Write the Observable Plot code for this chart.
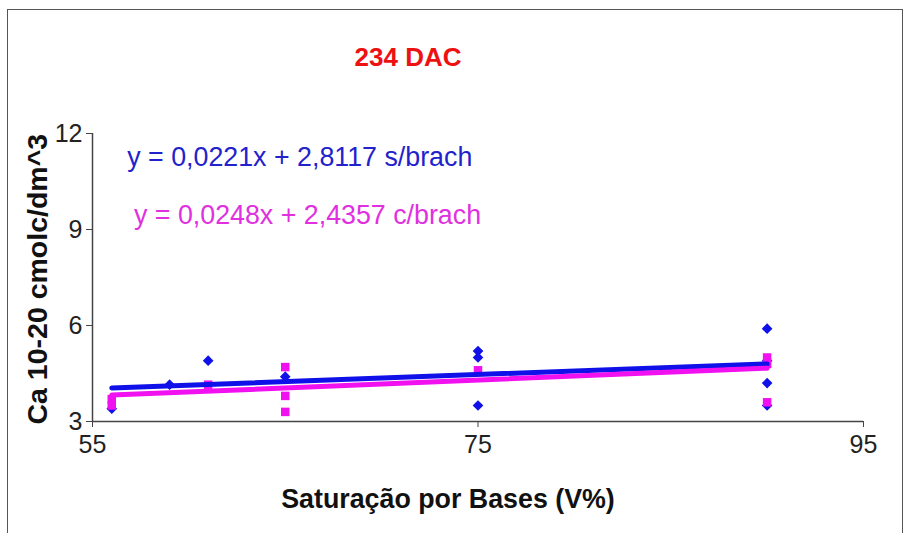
<!DOCTYPE html>
<html>
<head>
<meta charset="utf-8">
<script src="https://cdn.jsdelivr.net/npm/d3@7"></script>
<script src="https://cdn.jsdelivr.net/npm/@observablehq/plot@0.6"></script>
<style>
  html, body { margin: 0; padding: 0; background: #fff; }
  #wrap { position: relative; width: 908px; height: 533px; overflow: hidden; }
  #border { position: absolute; left: 7px; top: 9px; width: 896px; height: 600px; border: 1.5px solid #555; box-sizing: border-box; }
  #chart { position: absolute; left: 0; top: 0; }
</style>
</head>
<body>
<div id="wrap"><div id="border"></div><div id="chart"></div></div>
<script>
const title = "234 DAC";
const xLabel = "Saturação por Bases (V%)";
const yLabel = "Ca 10-20 cmolc/dm^3";
const xTicks = [55, 75, 95];
const yTicks = [3, 6, 9, 12];

// s/brach (blue)
const blueX = [56, 59, 61, 65, 75, 75, 75, 90, 90, 90, 90];
const blueY = [3.4, 4.15, 4.9, 4.4, 5.2, 5.0, 3.5, 5.9, 4.9, 4.2, 3.5];
// c/brach (magenta)
const pinkX = [56, 56, 61, 65, 65, 65, 75, 90, 90, 90];
const pinkY = [3.5, 3.7, 4.15, 4.7, 3.8, 3.3, 4.6, 5.0, 4.8, 3.6];

const blueFit = {a: 0.0221, b: 2.8117, label: "y = 0,0221x + 2,8117 s/brach"};
const pinkFit = {a: 0.0248, b: 2.4357, label: "y = 0,0248x + 2,4357 c/brach"};
const fitRange = [56, 90];

const blueColor = "#1010e8";
const pinkColor = "#f010f0";

const blue = blueX.map((x, i) => ({x, y: blueY[i]}));
const pink = pinkX.map((x, i) => ({x, y: pinkY[i]}));
const fitLine = f => fitRange.map(x => ({x, y: f.a * x + f.b}));

const chart = Plot.plot({
  width: 908,
  height: 533,
  marginLeft: 92,
  marginRight: 45,
  marginTop: 133,
  marginBottom: 112,
  style: {fontFamily: "'Liberation Sans', Arial, sans-serif", fontSize: "25px", background: "transparent", color: "#222"},
  x: {domain: [55, 95]},
  y: {domain: [3, 12]},
  marks: [
    Plot.axisX({ticks: xTicks, tickSize: 6, tickPadding: 8, fontSize: 25, label: null, stroke: "#444"}),
    Plot.axisY({ticks: yTicks, tickSize: 6, tickPadding: 4, fontSize: 25, label: null, stroke: "#444"}),
    Plot.ruleY([3], {stroke: "#444", strokeWidth: 1.5}),
    Plot.ruleX([55], {stroke: "#444", strokeWidth: 1.5}),
    Plot.dot(blue, {x: "x", y: "y", symbol: "diamond2", r: 4.8, fill: blueColor, stroke: null}),
    Plot.dot(pink, {x: "x", y: "y", symbol: "square", r: 4.8, fill: pinkColor, stroke: null}),
    Plot.line(fitLine(blueFit), {x: "x", y: "y", stroke: blueColor, strokeWidth: 5}),
    Plot.line(fitLine(pinkFit), {x: "x", y: "y", stroke: pinkColor, strokeWidth: 5}),
    Plot.text([blueFit.label], {x: 56.8, y: 11.25, textAnchor: "start", fill: "#2222cc", fontSize: 26.8}),
    Plot.text([pinkFit.label], {x: 57.15, y: 9.45, textAnchor: "start", fill: "#e030e0", fontSize: 26.8}),
    Plot.text([title], {frameAnchor: "top", dx: -70, dy: -86, fill: "#ee1111", fontWeight: "bold", fontSize: 26}),
    Plot.text([xLabel], {frameAnchor: "bottom", dx: -30, dy: 86, fill: "#111", fontWeight: "bold", fontSize: 26.8}),
    Plot.text([yLabel], {frameAnchor: "left", dx: -55, dy: 147, rotate: -90, fill: "#111", fontWeight: "bold", fontSize: 28.5})
  ]
});
document.getElementById("chart").appendChild(chart);
</script>
</body>
</html>
